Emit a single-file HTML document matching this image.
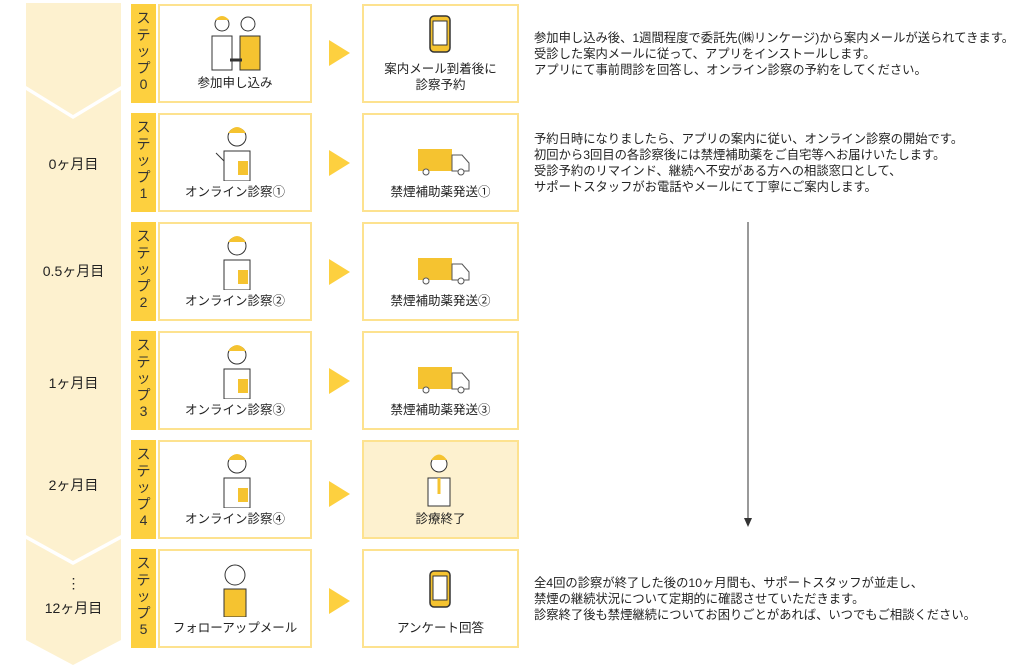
<!DOCTYPE html>
<html><head><meta charset="utf-8">
<style>
*{margin:0;padding:0;box-sizing:border-box}
body{width:1024px;height:670px;background:#fff;position:relative;overflow:hidden;font-family:"Liberation Sans","Noto Sans CJK JP",sans-serif;color:#222}
.a{position:absolute}
.step{position:absolute;left:131px;width:25px;height:99px;background:#fdd03f;font-size:14px;line-height:16.5px;text-align:center;padding-top:6px;color:#333}
.box{position:absolute;border:2px solid #fde28f;background:#fff;text-align:center;font-size:12.5px;color:#222}
.b1{left:158px;width:154px;height:99px}
.b2{left:362px;width:157px;height:99px}
.lbl{position:absolute;left:0;right:0;bottom:10px;line-height:16px}
.tri{position:absolute;left:329px;width:0;height:0;border-top:13px solid transparent;border-bottom:13px solid transparent;border-left:21px solid #fdd03f}
.mon{position:absolute;left:26px;width:95px;text-align:center;font-size:14px;color:#222}
.txt{position:absolute;left:534px;font-size:12.3px;line-height:16px;color:#222;white-space:nowrap}
</style></head><body>
<svg class="a" style="left:0;top:0" width="130" height="670">
<polygon points="26,3 121,3 121,86 73,115 26,86" fill="#fdf1cf"/>
<polygon points="26,90 73,119 121,90 121,535 73,561 26,535" fill="#fdf1cf"/>
<polygon points="26,539 73,565 121,539 121,640 73,665 26,640" fill="#fdf1cf"/>
</svg>
<div class="mon" style="top:154px">0ヶ月目</div>
<div class="mon" style="top:261px">0.5ヶ月目</div>
<div class="mon" style="top:373px">1ヶ月目</div>
<div class="mon" style="top:475px">2ヶ月目</div>
<div class="mon" style="top:571px;line-height:25px">⋮<br>12ヶ月目</div>

<div class="step" style="top:4px">ス<br>テ<br>ッ<br>プ<br>0</div>
<div class="box b1" style="top:4px"><svg class="a" style="left:44px;top:8px" width="64" height="58"><circle cx="18" cy="10" r="7" fill="#fff" stroke="#333"/><path d="M11 6 q7-8 14 0" fill="#f5c330"/><path d="M8 22 h20 v34 H8z" fill="#fff" stroke="#333"/><circle cx="44" cy="10" r="7" fill="#fff" stroke="#333"/><path d="M36 22 h20 v34 H36z" fill="#f5c330" stroke="#333"/><path d="M26 46 h12" stroke="#333" stroke-width="3"/></svg><div class="lbl">参加申し込み</div></div>
<div class="tri" style="top:40px"></div>
<div class="box b2" style="top:4px"><svg class="a" style="left:64px;top:8px" width="24" height="40"><rect x="2" y="2" width="20" height="36" rx="4" fill="#f5c330" stroke="#333" stroke-width="1.5"/><rect x="5" y="7" width="14" height="24" fill="#fff" stroke="#333"/></svg><div class="lbl" style="bottom:8px">案内メール到着後に<br>診察予約</div></div>
<div class="txt" style="top:30px">参加申し込み後、1週間程度で委託先(㈱リンケージ)から案内メールが送られてきます。<br>受診した案内メールに従って、アプリをインストールします。<br>アプリにて事前問診を回答し、オンライン診察の予約をしてください。</div>

<div class="step" style="top:113px">ス<br>テ<br>ッ<br>プ<br>1</div>
<div class="box b1" style="top:113px"><svg class="a" style="left:52px;top:8px" width="50" height="58"><circle cx="25" cy="14" r="9" fill="#fff" stroke="#333"/><path d="M16 10 q9-12 18 0z" fill="#f5c330"/><path d="M12 28 h26 v30 H12z" fill="#fff" stroke="#333"/><rect x="26" y="38" width="10" height="14" fill="#f5c330"/><path d="M4 30 l8 8" stroke="#333"/></svg><div class="lbl">オンライン診察①</div></div>
<div class="tri" style="top:150px"></div>
<div class="box b2" style="top:113px"><svg class="a" style="left:52px;top:32px" width="56" height="30"><rect x="2" y="2" width="34" height="22" fill="#f5c330"/><path d="M36 8 h10 l7 8 v8 h-17z" fill="#fff" stroke="#555"/><circle cx="10" cy="25" r="3" fill="#fff" stroke="#555"/><circle cx="45" cy="25" r="3" fill="#fff" stroke="#555"/></svg><div class="lbl">禁煙補助薬発送①</div></div>
<div class="txt" style="top:131px">予約日時になりましたら、アプリの案内に従い、オンライン診察の開始です。<br>初回から3回目の各診察後には禁煙補助薬をご自宅等へお届けいたします。<br>受診予約のリマインド、継続へ不安がある方への相談窓口として、<br>サポートスタッフがお電話やメールにて丁寧にご案内します。</div>

<div class="step" style="top:222px">ス<br>テ<br>ッ<br>プ<br>2</div>
<div class="box b1" style="top:222px"><svg class="a" style="left:52px;top:8px" width="50" height="58"><circle cx="25" cy="14" r="9" fill="#fff" stroke="#333"/><path d="M16 10 q9-12 18 0z" fill="#f5c330"/><path d="M12 28 h26 v30 H12z" fill="#fff" stroke="#333"/><rect x="26" y="38" width="10" height="14" fill="#f5c330"/></svg><div class="lbl">オンライン診察②</div></div>
<div class="tri" style="top:259px"></div>
<div class="box b2" style="top:222px"><svg class="a" style="left:52px;top:32px" width="56" height="30"><rect x="2" y="2" width="34" height="22" fill="#f5c330"/><path d="M36 8 h10 l7 8 v8 h-17z" fill="#fff" stroke="#555"/><circle cx="10" cy="25" r="3" fill="#fff" stroke="#555"/><circle cx="45" cy="25" r="3" fill="#fff" stroke="#555"/></svg><div class="lbl">禁煙補助薬発送②</div></div>

<div class="step" style="top:331px">ス<br>テ<br>ッ<br>プ<br>3</div>
<div class="box b1" style="top:331px"><svg class="a" style="left:52px;top:8px" width="50" height="58"><circle cx="25" cy="14" r="9" fill="#fff" stroke="#333"/><path d="M16 10 q9-12 18 0z" fill="#f5c330"/><path d="M12 28 h26 v30 H12z" fill="#fff" stroke="#333"/><rect x="26" y="38" width="10" height="14" fill="#f5c330"/></svg><div class="lbl">オンライン診察③</div></div>
<div class="tri" style="top:368px"></div>
<div class="box b2" style="top:331px"><svg class="a" style="left:52px;top:32px" width="56" height="30"><rect x="2" y="2" width="34" height="22" fill="#f5c330"/><path d="M36 8 h10 l7 8 v8 h-17z" fill="#fff" stroke="#555"/><circle cx="10" cy="25" r="3" fill="#fff" stroke="#555"/><circle cx="45" cy="25" r="3" fill="#fff" stroke="#555"/></svg><div class="lbl">禁煙補助薬発送③</div></div>

<div class="step" style="top:440px">ス<br>テ<br>ッ<br>プ<br>4</div>
<div class="box b1" style="top:440px"><svg class="a" style="left:52px;top:8px" width="50" height="58"><circle cx="25" cy="14" r="9" fill="#fff" stroke="#333"/><path d="M16 10 q9-12 18 0z" fill="#f5c330"/><path d="M12 28 h26 v30 H12z" fill="#fff" stroke="#333"/><rect x="26" y="38" width="10" height="14" fill="#f5c330"/></svg><div class="lbl">オンライン診察④</div></div>
<div class="tri" style="top:481px"></div>
<div class="box b2" style="top:440px;background:#fdf1cf"><svg class="a" style="left:50px;top:8px" width="50" height="58"><circle cx="25" cy="14" r="8" fill="#fff" stroke="#333"/><path d="M17 10 q8-11 16 0z" fill="#f5c330"/><path d="M14 28 h22 v28 H14z" fill="#fff" stroke="#333"/><path d="M25 28 v16" stroke="#f5c330" stroke-width="3"/></svg><div class="lbl">診療終了</div></div>

<div class="step" style="top:549px">ス<br>テ<br>ッ<br>プ<br>5</div>
<div class="box b1" style="top:549px"><svg class="a" style="left:50px;top:8px" width="50" height="58"><circle cx="25" cy="16" r="10" fill="#fff" stroke="#333"/><path d="M14 30 h22 v28 H14z" fill="#f5c330" stroke="#333"/></svg><div class="lbl">フォローアップメール</div></div>
<div class="tri" style="top:588px"></div>
<div class="box b2" style="top:549px"><svg class="a" style="left:64px;top:18px" width="24" height="40"><rect x="2" y="2" width="20" height="36" rx="4" fill="#f5c330" stroke="#333" stroke-width="1.5"/><rect x="5" y="7" width="14" height="24" fill="#fff" stroke="#333"/></svg><div class="lbl">アンケート回答</div></div>
<div class="txt" style="top:575px">全4回の診察が終了した後の10ヶ月間も、サポートスタッフが並走し、<br>禁煙の継続状況について定期的に確認させていただきます。<br>診察終了後も禁煙継続についてお困りごとがあれば、いつでもご相談ください。</div>

<svg class="a" style="left:740px;top:220px" width="16" height="310"><line x1="8" y1="2" x2="8" y2="302" stroke="#333" stroke-width="1"/><path d="M4 298 L8 307 L12 298" fill="#333"/></svg>
</body></html>
